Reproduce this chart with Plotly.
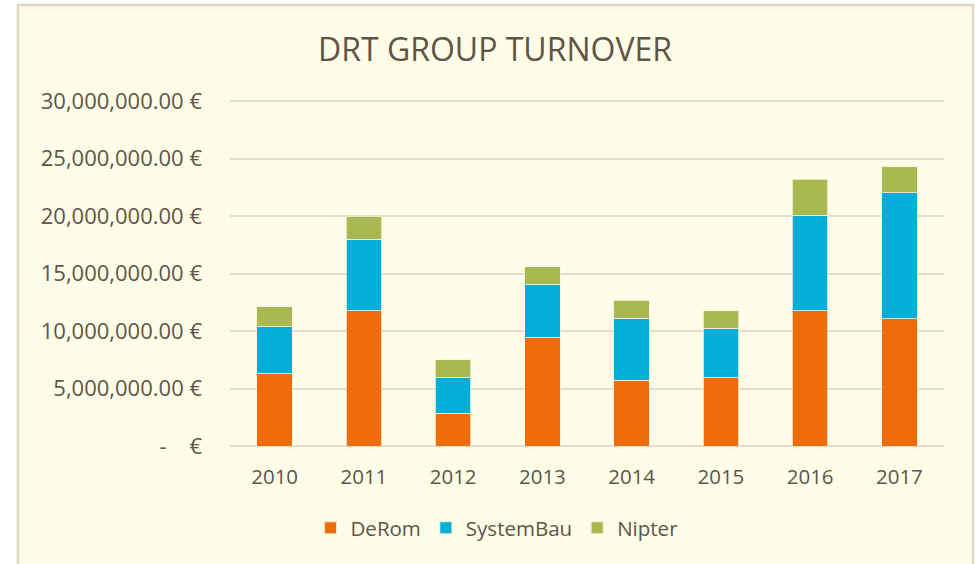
import plotly.graph_objects as go

years = ["2010", "2011", "2012", "2013", "2014", "2015", "2016", "2017"]
derom = [6270000, 11770000, 2860000, 9410000, 5710000, 5920000, 11770000, 11050000]
systembau = [4100000, 6230000, 3080000, 4660000, 5420000, 4340000, 8280000, 10980000]
nipter = [1750000, 1960000, 1550000, 1530000, 1540000, 1510000, 3150000, 2270000]

tick_vals = [0, 5000000, 10000000, 15000000, 20000000, 25000000, 30000000]
tick_text = ["-\u00a0\u00a0\u00a0\u00a0€", "5,000,000.00 €", "10,000,000.00 €", "15,000,000.00 €",
             "20,000,000.00 €", "25,000,000.00 €", "30,000,000.00 €"]

series = [("DeRom", derom, "#EF6C0A"), ("SystemBau", systembau, "#00AED8"), ("Nipter", nipter, "#A8B951")]

text_color = "#5E5548"
grid_color = "#E6DBCB"
font_family = "Open Sans"

fig = go.Figure()
for name, vals, color in series:
    fig.add_trace(go.Bar(
        x=years, y=vals, name=name,
        marker=dict(color=color, line=dict(color="#F7F1DA", width=0.8)),
    ))

W, H = 975, 564
L, R, T, B = 230, 31, 100, 118
pw = W - L - R
ph = H - T - B

def px_x(px):
    return (px - L) / pw

def px_y(py):
    return (H - B - py) / ph

fig.add_shape(type="rect", xref="paper", yref="paper",
              x0=px_x(18), x1=px_x(973), y0=px_y(620), y1=px_y(5),
              fillcolor="#FFFDE8", line=dict(color="#E2D6C3", width=2.5), layer="below")

fig.update_layout(
    width=W, height=H,
    barmode="stack", bargap=0.6,
    margin=dict(l=L, r=R, t=T, b=B),
    paper_bgcolor="white", plot_bgcolor="rgba(0,0,0,0)",
    font=dict(family=font_family, color=text_color, size=20),
    title=dict(text="DRT GROUP TURNOVER", x=495 / W, xref="container", xanchor="center",
               y=1 - 50 / H, yref="container", yanchor="middle",
               font=dict(size=32, color=text_color, family=font_family)),
    legend=dict(orientation="h", x=px_x(497), xanchor="center", y=px_y(528), yanchor="middle",
                font=dict(size=20.5, color=text_color), bgcolor="rgba(0,0,0,0)",
                traceorder="normal"),
    showlegend=True,
)
fig.update_yaxes(range=[0, 30000000 * 1.003], tickvals=tick_vals, ticktext=tick_text,
                 showgrid=True, gridcolor=grid_color, gridwidth=2,
                 zeroline=True, zerolinecolor=grid_color, zerolinewidth=2,
                 showline=False, ticks="", ticklabelstandoff=27,
                 tickfont=dict(size=22, color=text_color))
fig.update_xaxes(showgrid=False, showline=False, ticks="", ticklabelstandoff=16,
                 tickfont=dict(size=20.5, color=text_color))

fig.write_html("out.html", config={"displayModeBar": False},
               post_script="document.body.style.margin='0';")
